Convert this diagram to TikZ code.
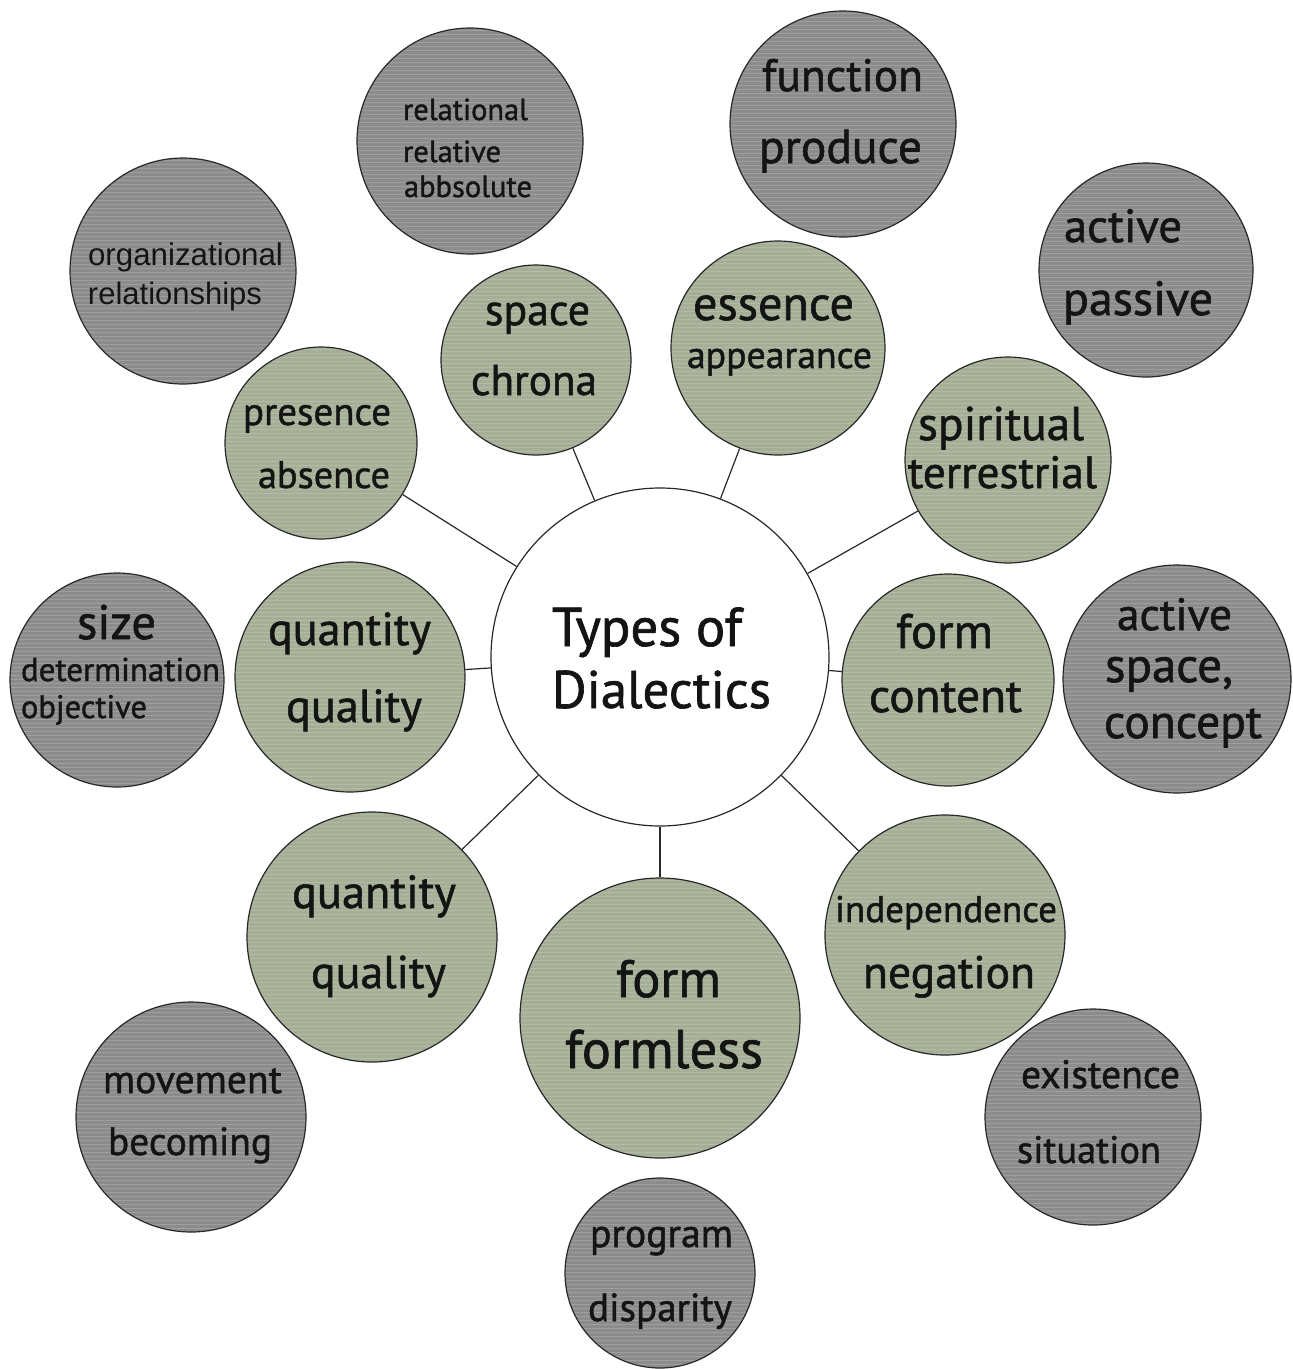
\documentclass[tikz,border=0pt]{standalone}
\usepackage{fontspec}
\setmainfont[FakeBold=1.2]{PT Sans}
\newfontfamily\arialf{Liberation Sans}
\usepackage{graphicx}
\definecolor{grayfill}{RGB}{140,140,140}
\definecolor{greenfill}{RGB}{165,175,150}
\definecolor{edgec}{RGB}{40,40,40}
\definecolor{txtc}{RGB}{20,20,20}
\tikzset{
  stripes/.style={path picture={
    \foreach \k in {0,...,75}{
      \draw[white,opacity=0.16,line width=0.8pt]
        ([yshift=-\k*4pt-2pt]path picture bounding box.north west) --
        ([yshift=-\k*4pt-2pt]path picture bounding box.north east);}}},
  bub/.style={circle,draw=edgec,line width=1.2pt,inner sep=0pt,stripes},
  gy/.style={bub,fill=grayfill},
  gn/.style={bub,fill=greenfill},
  hub/.style={circle,draw=edgec,line width=1.2pt,fill=white,inner sep=0pt},
  txt/.style={inner sep=0pt,outer sep=0pt,text=txtc,font=\fontsize{40}{48}\selectfont,anchor=base},
  link/.style={draw=edgec,line width=1.2pt}
}
\newcommand\tline[5]{%
  \pgfmathsetmacro\xc{(#2+#3)/2}%
  \pgfmathsetmacro\ww{#3-#2}%
  \node[txt] (#1) at (\xc,#4) {\resizebox{\ww pt}{!}{#5}};}
\begin{document}
\begin{tikzpicture}[x=1pt,y=-1pt]
\useasboundingbox (0,0) rectangle (1293,1369);
% gray outer circles
\node[gy,minimum size=226pt] (ga) at (470,141) {};
\node[gy,minimum size=226pt] (gb) at (843,124) {};
\node[gy,minimum size=214pt] (gc) at (1146,270) {};
\node[gy,minimum size=228pt] (gd) at (1177,679) {};
\node[gy,minimum size=216pt] (ge) at (1093,1117) {};
\node[gy,minimum size=190pt] (gf) at (660,1273) {};
\node[gy,minimum size=230pt] (gg) at (191,1117) {};
\node[gy,minimum size=214pt] (gh) at (117,680) {};
\node[gy,minimum size=226pt] (gi) at (183,271) {};
% green inner circles
\node[gn,minimum size=190pt] (n1) at (536,360) {};
\node[gn,minimum size=214pt] (n2) at (778,348) {};
\node[gn,minimum size=206pt] (n3) at (1008,460) {};
\node[gn,minimum size=212pt] (n4) at (948,680) {};
\node[gn,minimum size=240pt] (n5) at (945,935) {};
\node[gn,minimum size=280pt] (n6) at (660,1018) {};
\node[gn,minimum size=250pt] (n7) at (372,937) {};
\node[gn,minimum size=230pt] (n8) at (350,677) {};
\node[gn,minimum size=192pt] (n9) at (321,443) {};
% hub
\node[hub,minimum size=338pt] (hub) at (660,657) {};
% connectors
\foreach \n in {n1,n2,n3,n4,n5,n6,n7,n8,n9}{\draw[link] (hub) -- (\n);}
% hub text
\node[txt,anchor=base west] (h1) at (552,646) {\resizebox{190pt}{!}{Types of}};
\node[txt,anchor=base west] (h2) at (552,708) {\resizebox{219pt}{!}{Dialectics}};
% gray texts
\tline{ta1}{403}{528}{120}{relational}
\tline{ta2}{403}{501}{162}{relative}
\tline{ta3}{404}{532}{197}{abbsolute}
\tline{tb1}{762}{923}{91}{function}
\tline{tb2}{759}{922}{163}{produce}
\tline{tc1}{1064}{1182}{242}{active}
\tline{tc2}{1063}{1213}{315}{passive}
\tline{td1}{1117}{1232}{630}{active}
\tline{td2}{1105}{1233}{682}{space,}
\tline{td3}{1104}{1262}{738}{concept}
\tline{te1}{1021}{1180}{1088}{existence}
\tline{te2}{1017}{1161}{1163}{situation}
\tline{tf1}{590}{733}{1247}{program}
\tline{tf2}{588}{732}{1321}{disparity}
\tline{tg1}{103}{282}{1093}{movement}
\tline{tg2}{108}{272}{1155}{becoming}
\tline{th1}{77}{156}{639}{size}
\tline{th2}{21}{220}{681}{determination}
\tline{th3}{21}{147}{718}{objective}
\tline{ti1}{88}{283}{265}{\arialf organizational}
\tline{ti2}{88}{262}{304}{\arialf relationships}
% green texts
\tline{s1}{485}{590}{325}{space}
\tline{s2}{471}{597}{395}{chrona}
\tline{s3}{693}{854}{320}{essence}
\tline{s4}{687}{872}{368}{appearance}
\tline{s5}{918}{1084}{440}{spiritual}
\tline{s6}{908}{1097}{488}{terrestrial}
\tline{s7}{896}{993}{648}{form}
\tline{s8}{869}{1022}{712}{content}
\tline{s9}{835}{1057}{922}{independence}
\tline{s10}{863}{1035}{988}{negation}
\tline{s11}{616}{721}{997}{form}
\tline{s12}{565}{763}{1068}{formless}
\tline{s13}{292}{456}{908}{quantity}
\tline{s14}{311}{446}{988}{quality}
\tline{s15}{268}{431}{645}{quantity}
\tline{s16}{286}{422}{722}{quality}
\tline{s17}{243}{391}{425}{presence}
\tline{s18}{258}{390}{488}{absence}
\end{tikzpicture}
\end{document}
